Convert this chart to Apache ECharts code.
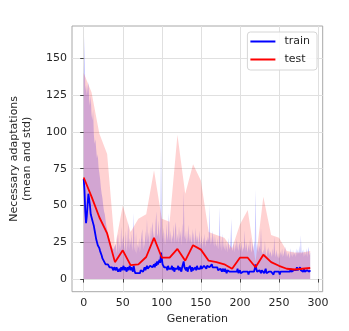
<!DOCTYPE html>
<html>
<head>
<meta charset="utf-8">
<script src="https://cdn.jsdelivr.net/npm/echarts@6/dist/echarts.min.js"></script>
<style>html,body{margin:0;padding:0;background:#fff;}#c{width:349px;height:331px;}</style>
</head>
<body>
<div id="c"></div>
<script>
// ---- data ----
const xTicks = [0, 50, 100, 150, 200, 250, 300];
const yTicks = [0, 25, 50, 75, 100, 125, 150];

// train: one value per generation 0..290
const trainMean = [
68,60,46,38,43,51,58,57,50,44,
43,40,38,36,33,30,27,25,23,24,
21,19,18,16,14,13,12,11,10,11,
9,10,9,8,9,7,8,7,6,8,
7,6,8,7,5,6,7,5,8,6,
7,9,6,8,7,5,8,6,7,9,
6,8,7,5,9,6,4,5,3,4,
3,5,4,6,5,7,5,6,8,6,
7,9,7,8,6,9,8,10,8,9,
10,8,11,9,12,10,9,13,11,18,
14,10,11,8,9,7,8,6,9,7,
8,6,7,9,6,8,5,7,6,8,
7,9,6,8,7,5,8,9,12,8,
7,6,8,5,7,6,9,7,5,8,
6,7,5,8,6,9,7,6,8,7,
9,7,8,6,9,8,10,7,9,8,
10,8,9,7,10,8,9,7,8,9,
7,8,6,7,5,7,6,5,7,6,
5,7,6,4,6,5,7,5,6,4,
5,4,6,5,4,6,5,7,4,5,
6,4,5,3,5,6,4,5,6,4,
5,3,5,6,4,5,4,6,5,7,
10,7,5,6,4,6,5,4,6,5,
6,4,5,7,4,5,3,5,6,4,
5,4,6,3,5,4,6,5,4,6,
5,3,5,4,6,5,4,6,5,4,
6,5,4,6,5,7,5,6,4,6,
5,7,6,8,6,7,5,8,6,7,
6,5,7,5,6,4,6,5,7,5,
6
];
// train mean + std (upper edge of the band; lower edge clipped at 0)
const trainUpper = [
135,165,128,132,125,130,134,122,118,125,
112,108,115,98,92,95,88,82,85,76,
72,68,62,58,55,50,46,44,40,36,
34,31,29,27,25,24,22,23,20,21,
19,24,17,26,31,18,25,20,36,22,
27,30,19,24,33,18,26,39,20,28,
23,31,19,26,45,22,18,32,17,24,
21,28,18,25,30,34,20,27,22,33,
24,41,26,32,21,36,25,34,39,28,
33,25,38,46,29,31,40,27,36,90,
42,27,35,24,32,23,38,26,31,45,
26,33,24,30,27,37,24,34,39,25,
31,24,36,27,33,23,38,28,60,30,
27,33,24,29,37,25,31,27,24,34,
26,32,22,35,25,30,27,23,33,26,
23,30,21,28,24,31,22,27,25,29,
26,51,23,29,24,33,27,22,30,24,
22,28,20,25,49,21,27,19,31,23,
20,26,19,24,18,28,22,20,27,41,
21,19,26,18,24,20,27,22,19,25,
23,19,26,18,22,20,33,19,25,21,
18,24,19,28,20,18,25,19,23,26,
61,24,19,25,18,23,20,35,19,17,
20,16,26,18,15,21,17,22,16,19,
17,15,21,16,29,18,15,20,16,14,
18,14,19,16,21,15,17,19,22,15,
19,15,18,16,14,21,17,15,20,16,
18,15,21,16,20,17,23,16,30,17,
16,20,15,19,16,21,15,19,22,16,
18
];

// test: every 10 generations
const testGen = [0,10,20,30,40,50,60,70,80,90,100,110,120,130,140,150,160,170,180,190,200,210,220,230,240,250,260,270,280,290];
const testMean = [69,56,42,31,11.5,19.5,9.5,10,15,28,14.5,14.5,20.5,12.5,23,20,12.5,11.5,10,7,14.5,14.5,8,16.5,11.5,9,7,6.5,7,7.5];
const testUpper = [140,127,99,85,22,50,32,41,44,74,41,39,98,58,78,67,32,30,28,21,37,47,12,56,30,28,19,18,18,19];

// ---- build ----
const trainPts = trainMean.map((v, i) => [i, v]);
const trainBand = trainUpper.map((v, i) => [i, v]);
const testPts = testMean.map((v, i) => [testGen[i], v]);
const testBand = testUpper.map((v, i) => [testGen[i], v]);

const gridLines = xTicks.map(v => ({xAxis: v})).concat(yTicks.map(v => ({yAxis: v})));

const FONT = 'DejaVu Sans';
const chart = echarts.init(document.getElementById('c'), null, {renderer: 'canvas'});
chart.setOption({
  animation: false,
  backgroundColor: '#fff',
  textStyle: {fontFamily: FONT},
  grid: {left: 56, right: 26.3, top: 26, bottom: 39.3, show: true, borderColor: '#a8a8a8', borderWidth: 1, backgroundColor: 'transparent'},
  legend: {
    data: ['train', 'test'],
    orient: 'vertical',
    right: 32, top: 32, z: 20, zlevel: 0,
    itemWidth: 25, itemHeight: 2, itemGap: 5,
    icon: 'rect',
    padding: [3, 7, 4, 3],
    backgroundColor: 'rgba(255,255,255,0.85)',
    borderColor: '#d6d6d6', borderWidth: 1, borderRadius: 3,
    textStyle: {fontFamily: FONT, fontSize: 11, color: '#262626', lineHeight: 13, padding: [0, 0, 0, 4]}
  },
  xAxis: {
    type: 'value', min: -15, max: 306,
    name: 'Generation', nameLocation: 'middle', nameGap: 15,
    nameTextStyle: {fontFamily: FONT, fontSize: 11, color: '#262626'},
    axisLine: {show: false},
    axisTick: {show: true, customValues: xTicks, length: 3.5, lineStyle: {color: '#444'}},
    axisLabel: {customValues: xTicks, margin: 6, fontFamily: FONT, fontSize: 11, color: '#262626'},
    splitLine: {show: false}
  },
  yAxis: {
    type: 'value', min: -8.6, max: 172,
    name: 'Necessary adaptations\n(mean and std)', nameLocation: 'middle', nameGap: 38, nameRotate: 90,
    nameTextStyle: {fontFamily: FONT, fontSize: 11, color: '#262626', lineHeight: 13},
    axisLine: {show: false},
    axisTick: {show: true, customValues: yTicks, length: 3.5, lineStyle: {color: '#444'}},
    axisLabel: {customValues: yTicks, margin: 5, fontFamily: FONT, fontSize: 11, color: '#262626'},
    splitLine: {show: false}
  },
  series: [
    {name: 'grid', type: 'line', data: [], symbol: 'none', silent: true, z: 0,
     markLine: {silent: true, symbol: 'none', label: {show: false}, animation: false, z: 0,
       lineStyle: {color: '#e0e0e0', width: 1, type: 'solid'}, emphasis: {disabled: true},
       data: gridLines}},
    {name: 'trainBand', type: 'line', data: trainBand, symbol: 'none', silent: true, z: 1,
     lineStyle: {width: 0}, areaStyle: {color: 'rgba(0,0,255,0.3)'}},
    {name: 'testBand', type: 'line', data: testBand, symbol: 'none', silent: true, z: 2,
     lineStyle: {width: 0}, areaStyle: {color: 'rgba(255,0,0,0.25)'}},
    {name: 'train', type: 'line', data: trainPts, symbol: 'none', z: 3, color: '#0000ff',
     lineStyle: {color: '#0000ff', width: 1.8}},
    {name: 'test', type: 'line', data: testPts, symbol: 'none', z: 4, color: '#ff0000',
     lineStyle: {color: '#ff0000', width: 1.8}}
  ]
});
</script>
</body>
</html>
